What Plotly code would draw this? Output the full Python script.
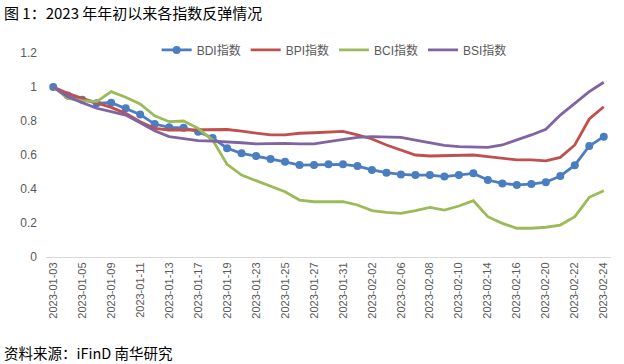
import plotly.graph_objects as go

dates = ["2023-01-03","2023-01-04","2023-01-05","2023-01-06","2023-01-09","2023-01-10","2023-01-11","2023-01-12","2023-01-13",
         "2023-01-16","2023-01-17","2023-01-18","2023-01-19","2023-01-20","2023-01-23","2023-01-24","2023-01-25","2023-01-26",
         "2023-01-27","2023-01-30","2023-01-31","2023-02-01","2023-02-02","2023-02-03","2023-02-06","2023-02-07","2023-02-08",
         "2023-02-09","2023-02-10","2023-02-13","2023-02-14","2023-02-15","2023-02-16","2023-02-17","2023-02-20","2023-02-21",
         "2023-02-22","2023-02-23","2023-02-24"]

bdi = [1.0, 0.95, 0.925, 0.905, 0.908, 0.875, 0.838, 0.782, 0.763, 0.76, 0.737, 0.70, 0.64, 0.61, 0.594, 0.576, 0.56, 0.541,
       0.541, 0.545, 0.545, 0.535, 0.512, 0.496, 0.486, 0.482, 0.482, 0.473, 0.482, 0.492, 0.453, 0.433, 0.424, 0.429,
       0.44, 0.476, 0.54, 0.653, 0.708]
bpi = [1.0, 0.963, 0.933, 0.908, 0.88, 0.845, 0.796, 0.757, 0.747, 0.747, 0.747, 0.75, 0.75, 0.74, 0.728, 0.718, 0.718, 0.728,
       0.731, 0.735, 0.739, 0.718, 0.694, 0.659, 0.629, 0.60, 0.594, 0.596, 0.60, 0.60, 0.59, 0.58, 0.571, 0.571,
       0.565, 0.586, 0.659, 0.812, 0.884]
bci = [1.0, 0.933, 0.92, 0.914, 0.973, 0.94, 0.9, 0.83, 0.796, 0.80, 0.757, 0.688, 0.545, 0.482, 0.449, 0.418, 0.384, 0.335,
       0.325, 0.325, 0.325, 0.306, 0.273, 0.263, 0.257, 0.273, 0.292, 0.276, 0.30, 0.331, 0.237, 0.198, 0.169, 0.169,
       0.175, 0.188, 0.237, 0.351, 0.39]
bsi = [1.0, 0.943, 0.908, 0.875, 0.855, 0.835, 0.79, 0.743, 0.708, 0.694, 0.684, 0.682, 0.678, 0.672, 0.665, 0.668, 0.668, 0.665,
       0.665, 0.678, 0.692, 0.704, 0.708, 0.704, 0.704, 0.688, 0.672, 0.657, 0.649, 0.649, 0.645, 0.659, 0.688, 0.718,
       0.751, 0.835, 0.904, 0.973, 1.028]

names = ["BDI指数", "BPI指数", "BCI指数", "BSI指数"]
colors = ["#4A7EC1", "#C0504D", "#9BBB59", "#8064A2"]
yticks = [0, 0.2, 0.4, 0.6, 0.8, 1, 1.2]
yticktext = ["0", "0.2", "0.4", "0.6", "0.8", "1", "1.2"]

fig = go.Figure()
for name, vals, col in zip(names, [bdi, bpi, bci, bsi], colors):
    if name == "BDI指数":
        fig.add_trace(go.Scatter(x=dates, y=vals, name=name, mode="lines+markers",
                                 line=dict(color=col, width=2.8), marker=dict(size=8, color=col)))
    else:
        fig.add_trace(go.Scatter(x=dates, y=vals, name=name, mode="lines",
                                 line=dict(color=col, width=2.8)))

fig.update_layout(
    width=624, height=364,
    margin=dict(l=46, r=13, t=53, b=107),
    paper_bgcolor="white", plot_bgcolor="white",
    font=dict(family="Liberation Sans, Arial, Noto Sans CJK SC", color="#595959", size=12),
    showlegend=True,
    legend=dict(orientation="h", x=0.51, xanchor="center", y=1.015, yanchor="middle",
                font=dict(size=12, color="#595959"), itemwidth=30, tracegroupgap=0,
                bgcolor="rgba(0,0,0,0)"),
    xaxis=dict(type="category", tickmode="array", tickvals=dates[::2], ticktext=dates[::2],
               tickangle=-90, showgrid=False, showline=True, linecolor="#D9D9D9", linewidth=1,
               ticks="", tickfont=dict(size=11, color="#595959"), range=[-0.5, len(dates) - 0.5],
               automargin=False),
    yaxis=dict(range=[0, 1.2], tickmode="array", tickvals=yticks, ticktext=yticktext,
               showgrid=False, zeroline=False, showline=False, ticks="", ticklabelstandoff=8,
               tickfont=dict(size=12, color="#595959"), automargin=False),
)

fig.add_annotation(text="图 1：2023 年年初以来各指数反弹情况", xref="paper", yref="paper",
                   x=-44/565, y=(257-12)/204, xanchor="left", yanchor="middle",
                   showarrow=False, font=dict(family="Noto Sans CJK SC", size=15, color="#000000"))
fig.add_annotation(text="资料来源：iFinD 南华研究", xref="paper", yref="paper",
                   x=-44/565, y=-(352-257)/204, xanchor="left", yanchor="middle",
                   showarrow=False, font=dict(family="Noto Sans CJK SC", size=14.5, color="#000000"))

fig.write_html("out.html", config={"displayModeBar": False},
               post_script="document.body.style.margin='0px';document.body.style.padding='0px';")
